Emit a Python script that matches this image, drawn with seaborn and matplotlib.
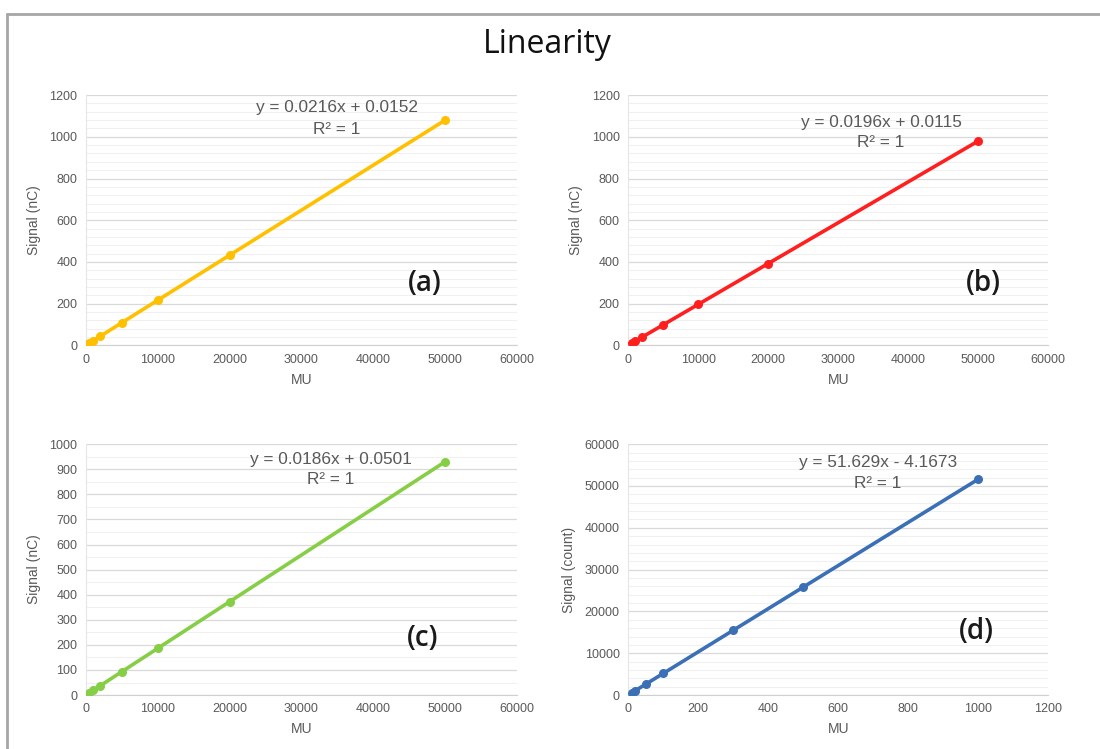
import seaborn as sns
import matplotlib
matplotlib.use('Agg')
import matplotlib.pyplot as plt
from matplotlib.lines import Line2D
from matplotlib.ticker import MultipleLocator
import pandas as pd

# MU delivered and measured signal, one list pair per panel
mu_a = [500, 1000, 2000, 5000, 10000, 20000, 50000]
signal_a = [11, 22, 43, 108, 216, 432, 1080]

mu_b = [500, 1000, 2000, 5000, 10000, 20000, 50000]
signal_b = [10, 20, 39, 98, 196, 392, 980]

mu_c = [500, 1000, 2000, 5000, 10000, 20000, 50000]
signal_c = [9, 19, 37, 93, 186, 372, 930]

mu_d = [10, 20, 50, 100, 300, 500, 1000]
signal_d = [512, 1029, 2577, 5159, 15485, 25810, 51625]

equations = ['y = 0.0216x + 0.0152', 'y = 0.0196x + 0.0115',
             'y = 0.0186x + 0.0501', 'y = 51.629x - 4.1673']
panel_tags = ['(a)', '(b)', '(c)', '(d)']
y_labels = ['Signal (nC)', 'Signal (nC)', 'Signal (nC)', 'Signal (count)']
colors = ['#FFC000', '#FF1F1F', '#86CE45', '#3B6FB6']

sns.set_style('white')
plt.rcParams['font.family'] = ['Liberation Sans', 'DejaVu Sans']

fig = plt.figure(figsize=(11, 7.49), dpi=100)

# axes boxes in figure fraction: left, bottom, width, height
boxes = [
    [0.078, 0.539, 0.392, 0.334],
    [0.571, 0.539, 0.382, 0.334],
    [0.078, 0.072, 0.392, 0.335],
    [0.571, 0.072, 0.382, 0.335],
]
limits = [
    (60000, 1200, 10000, 200, 40),
    (60000, 1200, 10000, 200, 40),
    (60000, 1000, 10000, 100, 50),
    (1200, 60000, 200, 10000, 2000),
]
eq_pos = [(0.582, 0.952, 0.864), (0.602, 0.892, 0.812),
          (0.568, 0.940, 0.860), (0.595, 0.928, 0.845)]
tag_pos = [(0.787, 0.248), (0.845, 0.248), (0.782, 0.227), (0.83, 0.255)]

datasets = [(mu_a, signal_a), (mu_b, signal_b), (mu_c, signal_c), (mu_d, signal_d)]
grey = '#595959'

for i, (xs, ys) in enumerate(datasets):
    ax = fig.add_axes(boxes[i])
    df = pd.DataFrame({'MU': xs, 'Signal': ys})
    sns.lineplot(data=df, x='MU', y='Signal', ax=ax, color=colors[i],
                 linewidth=2.6, marker='o', markersize=6.5,
                 markeredgewidth=0, zorder=3)
    xmax, ymax, xstep, ystep, yminor = limits[i]
    ax.set_xlim(0, xmax)
    ax.set_ylim(0, ymax)
    ax.xaxis.set_major_locator(MultipleLocator(xstep))
    ax.yaxis.set_major_locator(MultipleLocator(ystep))
    ax.yaxis.set_minor_locator(MultipleLocator(yminor))
    ax.grid(which='major', axis='y', color='#D9D9D9', linewidth=0.9)
    ax.grid(which='minor', axis='y', color='#F0F0F0', linewidth=0.8)
    ax.set_axisbelow(True)
    for side in ['top', 'right']:
        ax.spines[side].set_visible(False)
    ax.spines['left'].set_color('#E6E6E6')
    ax.spines['bottom'].set_color('#D0D0D0')
    ax.tick_params(axis='both', which='major', labelsize=9, labelcolor=grey,
                   color='#D0D0D0', length=3, width=0.8, pad=3)
    ax.tick_params(axis='y', which='minor', length=0)
    ax.set_xlabel('MU', fontsize=10, color=grey, labelpad=5)
    ax.set_ylabel(y_labels[i], fontsize=10, color=grey, labelpad=6)

    ex, ey, ry = eq_pos[i]
    ax.text(ex, ey, equations[i], transform=ax.transAxes, ha='center',
            va='center', fontsize=12.4, color=grey)
    ax.text(ex, ry, 'R² = 1', transform=ax.transAxes, ha='center',
            va='center', fontsize=12.4, color=grey)
    tx, ty = tag_pos[i]
    ax.text(tx, ty, panel_tags[i], transform=ax.transAxes, ha='center',
            va='center', fontsize=20, color='#1A1A1A',
            family=['Open Sans', 'DejaVu Sans'], fontweight='semibold')

fig.text(0.498, 0.94, 'Linearity', ha='center', va='center', fontsize=23,
         color='#111111', family=['Open Sans', 'DejaVu Sans'])

# grey frame of the pasted picture: top and left edges only
fig.add_artist(Line2D([0.0064, 1.0], [0.981, 0.981], transform=fig.transFigure,
                      color='#A6A6A6', linewidth=2))
fig.add_artist(Line2D([0.0064, 0.0064], [0.0, 0.981], transform=fig.transFigure,
                      color='#A6A6A6', linewidth=2))

fig.savefig('out.png', dpi=100)
